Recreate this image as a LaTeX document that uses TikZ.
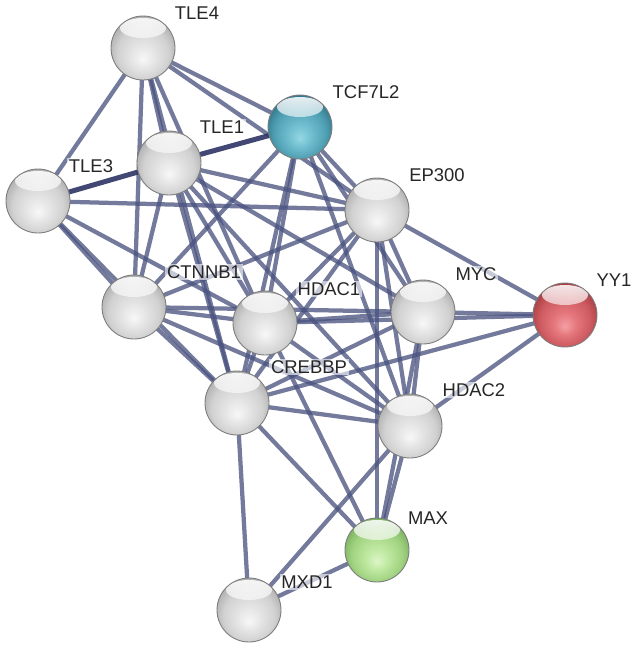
\documentclass[tikz,border=0pt]{standalone}
\usepackage{fontspec}
\setmainfont{Liberation Sans}
\usetikzlibrary{backgrounds,fadings}

\definecolor{edgec}{RGB}{75,84,128}
\definecolor{edged}{RGB}{45,52,100}
\definecolor{rimc}{RGB}{125,125,125}

\pgfdeclareradialshading{sgray}{\pgfpoint{0bp}{-9bp}}{%
 color(0bp)=(white!97!black); color(9bp)=(white!90!black); color(20bp)=(white!82!black);
 color(28bp)=(white!68!black); color(40bp)=(white!60!black)}
\pgfdeclareradialshading{steal}{\pgfpoint{0bp}{-9bp}}{%
 color(0bp)=(rgb,255:red,150;green,215;blue,228); color(9bp)=(rgb,255:red,112;green,190;blue,207);
 color(20bp)=(rgb,255:red,80;green,160;blue,180); color(28bp)=(rgb,255:red,48;green,118;blue,138);
 color(40bp)=(rgb,255:red,40;green,100;blue,120)}
\pgfdeclareradialshading{sred}{\pgfpoint{0bp}{-9bp}}{%
 color(0bp)=(rgb,255:red,245;green,160;blue,165); color(9bp)=(rgb,255:red,228;green,118;blue,124);
 color(20bp)=(rgb,255:red,205;green,90;blue,96); color(28bp)=(rgb,255:red,165;green,60;blue,66);
 color(40bp)=(rgb,255:red,140;green,45;blue,50)}
\pgfdeclareradialshading{sgreen}{\pgfpoint{0bp}{-9bp}}{%
 color(0bp)=(rgb,255:red,220;green,246;blue,200); color(9bp)=(rgb,255:red,190;green,232;blue,160);
 color(20bp)=(rgb,255:red,160;green,210;blue,128); color(28bp)=(rgb,255:red,120;green,175;blue,95);
 color(40bp)=(rgb,255:red,100;green,150;blue,80)}

\tikzset{
  ballbase/.style={circle, minimum size=1.28cm, inner sep=0pt, draw=rimc, line width=0.5pt,
    path picture={
      \fill[white, path fading=south, opacity=0.9]
        ([yshift=-0.24cm]path picture bounding box.north) ellipse (0.46cm and 0.2cm);
    }},
  gball/.style={ballbase, shading=sgray},
  tball/.style={ballbase, shading=steal},
  rball/.style={ballbase, shading=sred},
  vball/.style={ballbase, shading=sgreen},
  lab/.style={font=\fontsize{10.5}{12}\selectfont, text=black!85, fill=white, fill opacity=0.6, text opacity=1, inner sep=1pt},
  edge/.style={line width=0.085cm, draw=edgec, opacity=0.78},
  tedge/.style={line width=0.1cm, draw=edged, opacity=0.9}
}

\begin{document}
\begin{tikzpicture}[x=0.02cm, y=-0.02cm]
\useasboundingbox (0,0) rectangle (637,664);

% balls
\node[gball] (tle4)   at (143,48)  {};
\node[tball] (tcf)    at (300,127) {};
\node[gball] (tle1)   at (169,163) {};
\node[gball] (tle3)   at (38,201)  {};
\node[gball] (ep)     at (377,210) {};
\node[gball] (ctn)    at (134,307) {};
\node[gball] (hd1)    at (265,323) {};
\node[gball] (myc)    at (423,312) {};
\node[rball] (yy1)    at (565,315) {};
\node[gball] (cbp)    at (237,403) {};
\node[gball] (hd2)    at (410,426) {};
\node[vball] (max)    at (377,550) {};
\node[gball] (mxd)    at (249,610) {};

% edges
\begin{pgfonlayer}{background}
\foreach \a/\b in {
  tle4/tle3, tle4/tle1, tle4/tcf, tle4/ep, tle4/ctn, tle4/hd1, tle4/cbp,
  tle1/ep, tle1/myc, tle1/ctn, tle1/hd1, tle1/cbp, tle1/hd2,
  tle3/ep, tle3/ctn, tle3/cbp, tle3/hd1,
  tcf/ep, tcf/ctn, tcf/hd1, tcf/cbp, tcf/myc, tcf/hd2,
  ep/ctn, ep/hd1, ep/cbp, ep/myc, ep/hd2, ep/yy1, ep/max,
  ctn/hd1, ctn/cbp, ctn/myc, ctn/hd2,
  hd1/cbp, hd1/myc, hd1/yy1, hd1/hd2, hd1/max,
  myc/yy1, myc/hd2, myc/max, myc/cbp,
  yy1/hd2, yy1/cbp,
  cbp/hd2, cbp/max, cbp/mxd,
  hd2/max, hd2/mxd, max/mxd}
  \draw[edge] (\a.center) -- (\b.center);
\foreach \a/\b in {tle1/tcf, tle1/tle3}
  \draw[tedge] (\a.center) -- (\b.center);
\end{pgfonlayer}

% labels
\node[lab] (ltle4) at (197,13)  {TLE4};
\node[lab] (ltcf)  at (366,92)  {TCF7L2};
\node[lab] (ltle1) at (222,127) {TLE1};
\node[lab] (ltle3) at (91,166)  {TLE3};
\node[lab] (lep)   at (437,175) {EP300};
\node[lab] (lctn)  at (204,272) {CTNNB1};
\node[lab] (lhd1)  at (329,289) {HDAC1};
\node[lab] (lmyc)  at (476,274) {MYC};
\node[lab] (lyy1)  at (614,280) {YY1};
\node[lab] (lcbp)  at (309,367) {CREBBP};
\node[lab] (lhd2)  at (474,390) {HDAC2};
\node[lab] (lmax)  at (428,518) {MAX};
\node[lab] (lmxd)  at (307,582) {MXD1};
\end{tikzpicture}
\end{document}
